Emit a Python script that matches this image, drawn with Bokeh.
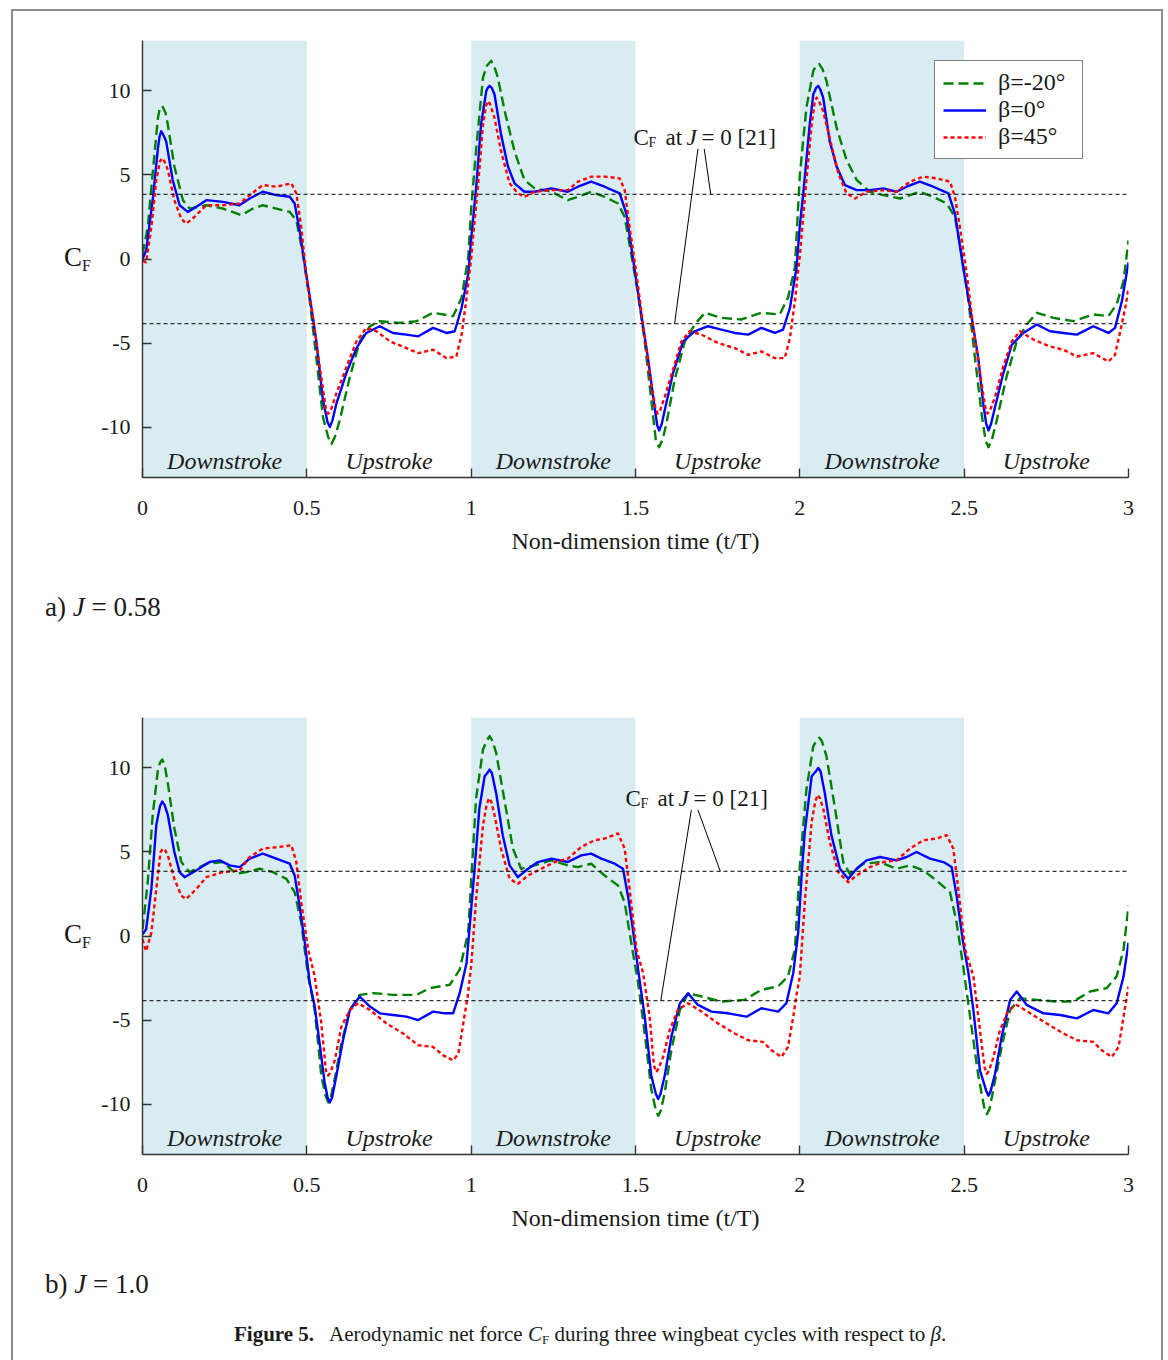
from bokeh.plotting import figure
from bokeh.models import Range1d, FixedTicker, Legend, LegendItem, Label, Span, Div
from bokeh.layouts import column, row
from bokeh.embed import file_html
from bokeh.resources import INLINE
from bokeh.core.properties import value

# ---------------- data ----------------
x_ticks = [0, 0.5, 1, 1.5, 2, 2.5, 3]
x_tick_labels = ["0", "0.5", "1", "1.5", "2", "2.5", "3"]
y_ticks = [-10, -5, 0, 5, 10]
y_tick_labels = ["-10", "-5", "0", "5", "10"]
downstroke_start = [0, 1, 2]
downstroke_end = [0.5, 1.5, 2.5]
phase_names = ["Downstroke", "Upstroke"] * 3
cf_hover_levels = [3.85, -3.85]          # C_F at J = 0 [21]
series_names = ["β=-20°", "β=0°", "β=45°"]

# (t/T, C_F)  a) J = 0.58
a_green = sorted([(0.000,0.3),(0.016,1.9),(0.031,5.1),(0.047,8.4),(0.060,9.1),(0.077,8.0),(0.097,5.5),(0.123,3.5),(0.143,3.0),(0.194,3.2),(0.245,3.0),(0.301,2.6),(0.336,3.0),(0.366,3.2),(0.407,3.0),(0.448,2.8),(0.468,2.3),(0.488,0.3),(0.509,-2.5),(0.529,-5.9),(0.549,-9.4),(0.575,-11.0),(0.600,-9.6),(0.631,-7.0),(0.661,-4.9),(0.692,-4.0),(0.722,-3.7),(0.783,-3.8),(0.834,-3.7),(0.884,-3.2),(0.945,-3.4),(0.971,-2.3),(0.991,0.1),
           (1.000,3.0),(1.015,6.5),(1.036,10.8),(1.061,11.8),(1.081,10.8),(1.102,8.8),(1.132,6.4),(1.162,4.7),(1.193,4.2),(1.244,4.0),(1.294,3.5),(1.325,3.7),(1.365,4.0),(1.406,3.7),(1.447,3.3),(1.467,2.5),(1.487,0.3),(1.508,-2.1),(1.528,-4.9),(1.548,-8.4),(1.572,-11.2),(1.594,-9.8),(1.619,-7.2),(1.650,-4.9),(1.680,-3.9),(1.711,-3.2),(1.761,-3.5),(1.822,-3.6),(1.883,-3.2),(1.939,-3.3),(1.964,-2.3),(1.985,-0.5),
           (2.000,5.0),(2.020,9.0),(2.041,11.2),(2.059,11.6),(2.081,10.6),(2.112,7.8),(2.142,5.9),(2.173,4.7),(2.213,4.0),(2.254,3.8),(2.305,3.6),(2.335,3.8),(2.365,4.0),(2.406,3.7),(2.447,3.3),(2.472,2.5),(2.492,0.3),(2.513,-2.5),(2.533,-5.9),(2.553,-9.2),(2.574,-11.2),(2.599,-9.6),(2.629,-7.0),(2.660,-4.9),(2.690,-3.9),(2.721,-3.2),(2.772,-3.5),(2.832,-3.7),(2.893,-3.3),(2.939,-3.4),(2.964,-2.7),(2.985,-1.3),(3.000,1.1),
           (0.052,8.9),(0.070,8.7),(0.565,-10.6),(0.585,-10.6),(1.048,11.5),(1.073,11.3),(1.562,-10.8),(1.583,-10.7),(2.050,11.5),(2.069,11.3),(2.565,-10.8),(2.585,-10.7)])
a_blue = sorted([(0.000,0.0),(0.011,0.5),(0.031,3.5),(0.047,6.6),(0.057,7.6),(0.072,7.0),(0.092,4.7),(0.113,3.2),(0.138,2.8),(0.163,3.1),(0.194,3.5),(0.245,3.4),(0.295,3.2),(0.326,3.6),(0.366,4.0),(0.407,3.8),(0.448,3.7),(0.463,3.3),(0.478,1.7),(0.498,-0.9),(0.514,-2.9),(0.529,-4.9),(0.549,-8.4),(0.570,-10.0),(0.590,-8.6),(0.620,-6.8),(0.651,-5.3),(0.681,-4.4),(0.722,-4.0),(0.762,-4.4),(0.803,-4.5),(0.839,-4.6),(0.884,-4.1),(0.925,-4.4),(0.950,-4.3),(0.971,-2.9),(0.991,-0.9),
          (1.000,1.2),(1.015,4.2),(1.030,8.0),(1.046,10.0),(1.056,10.3),(1.071,9.8),(1.091,7.4),(1.112,5.5),(1.132,4.5),(1.162,4.0),(1.193,4.0),(1.244,4.2),(1.294,4.0),(1.325,4.3),(1.365,4.6),(1.406,4.3),(1.452,3.9),(1.472,2.7),(1.492,0.1),(1.513,-2.7),(1.538,-5.9),(1.558,-8.8),(1.572,-10.2),(1.589,-9.0),(1.614,-6.8),(1.645,-4.9),(1.680,-4.3),(1.721,-4.0),(1.761,-4.2),(1.802,-4.4),(1.843,-4.5),(1.883,-4.1),(1.924,-4.4),(1.949,-4.2),(1.970,-2.9),(1.990,-0.5),
          (2.000,2.0),(2.010,3.8),(2.030,8.0),(2.041,9.8),(2.056,10.3),(2.071,9.6),(2.091,7.0),(2.112,5.5),(2.137,4.4),(2.173,4.1),(2.213,4.1),(2.254,4.2),(2.294,4.0),(2.325,4.3),(2.365,4.6),(2.406,4.3),(2.452,3.9),(2.472,2.7),(2.497,-0.5),(2.518,-2.9),(2.543,-5.9),(2.558,-8.6),(2.574,-10.2),(2.594,-8.8),(2.619,-6.8),(2.645,-5.1),(2.680,-4.4),(2.721,-3.9),(2.761,-4.3),(2.802,-4.4),(2.843,-4.5),(2.893,-4.0),(2.939,-4.4),(2.959,-4.1),(2.980,-2.5),(3.000,-0.2),
          (0.052,7.3),(0.063,7.4),(0.563,-9.7),(0.578,-9.6),(1.051,10.2),(1.062,10.2),(1.566,-9.9),(1.580,-9.8),(2.050,10.2),(2.062,10.1),(2.567,-9.8),(2.582,-9.8)])
a_red = sorted([(0.000,-0.1),(0.011,-0.2),(0.027,1.9),(0.042,4.7),(0.060,6.0),(0.077,5.3),(0.097,3.5),(0.118,2.4),(0.133,2.1),(0.158,2.5),(0.194,3.2),(0.245,3.2),(0.296,3.3),(0.326,3.8),(0.366,4.4),(0.407,4.3),(0.453,4.5),(0.468,3.9),(0.483,1.9),(0.498,-0.9),(0.519,-3.5),(0.539,-6.4),(0.565,-9.2),(0.590,-8.0),(0.621,-6.4),(0.651,-4.9),(0.681,-4.1),(0.712,-4.3),(0.753,-4.9),(0.803,-5.3),(0.839,-5.6),(0.884,-5.4),(0.925,-5.9),(0.955,-5.8),(0.971,-4.5),(0.986,-2.3),
         (1.000,0.0),(1.010,2.2),(1.022,4.6),(1.036,8.0),(1.051,9.4),(1.071,8.4),(1.091,6.4),(1.117,4.5),(1.142,3.9),(1.162,3.7),(1.193,4.0),(1.244,4.1),(1.294,4.1),(1.325,4.6),(1.365,4.9),(1.406,4.9),(1.452,4.8),(1.467,4.1),(1.482,1.9),(1.503,-0.9),(1.523,-3.9),(1.543,-6.8),(1.567,-9.2),(1.589,-8.2),(1.614,-6.6),(1.640,-4.9),(1.665,-4.3),(1.701,-4.5),(1.751,-5.0),(1.802,-5.3),(1.843,-5.7),(1.883,-5.5),(1.924,-5.9),(1.954,-5.9),(1.970,-4.7),(1.985,-2.5),
         (2.000,0.2),(2.020,4.7),(2.036,8.0),(2.051,9.6),(2.071,8.8),(2.091,7.2),(2.117,5.1),(2.142,3.9),(2.168,3.6),(2.203,4.0),(2.254,4.1),(2.294,4.0),(2.335,4.6),(2.376,4.9),(2.416,4.8),(2.457,4.6),(2.472,3.7),(2.487,1.9),(2.508,-0.9),(2.528,-4.1),(2.548,-6.8),(2.571,-9.2),(2.594,-8.2),(2.619,-6.4),(2.645,-4.9),(2.670,-4.3),(2.711,-4.8),(2.761,-5.2),(2.802,-5.4),(2.843,-5.8),(2.893,-5.6),(2.939,-6.1),(2.959,-5.7),(2.975,-4.3),(2.990,-2.9),(3.000,-1.8),
         (0.053,5.8),(0.067,5.8),(0.558,-8.9),(0.573,-9.0),(1.045,9.1),(1.058,9.2),(1.560,-8.8),(1.575,-9.0),(2.045,9.3),(2.058,9.4),(2.564,-8.8),(2.579,-9.0)])

# (t/T, C_F)  b) J = 1.0
b_green = sorted([(0.000,0.4),(0.016,3.2),(0.031,7.2),(0.047,9.9),(0.060,10.5),(0.077,9.1),(0.097,6.4),(0.118,4.4),(0.143,3.8),(0.194,4.3),(0.245,4.4),(0.285,3.7),(0.316,3.8),(0.356,4.0),(0.397,3.8),(0.438,3.4),(0.463,2.6),(0.483,0.8),(0.504,-2.4),(0.524,-4.4),(0.544,-8.3),(0.565,-9.9),(0.585,-8.5),(0.605,-6.4),(0.631,-4.4),(0.661,-3.5),(0.702,-3.4),(0.762,-3.5),(0.834,-3.5),(0.874,-3.1),(0.935,-2.9),(0.965,-2.0),(0.991,0.2),
           (1.000,3.3),(1.015,8.2),(1.036,11.1),(1.056,11.9),(1.076,10.9),(1.102,8.0),(1.127,5.2),(1.152,4.0),(1.193,4.2),(1.244,4.5),(1.294,4.2),(1.325,4.1),(1.365,4.3),(1.406,3.6),(1.447,3.0),(1.467,2.0),(1.487,-0.4),(1.508,-2.8),(1.528,-5.8),(1.548,-9.1),(1.569,-10.7),(1.589,-9.3),(1.609,-6.8),(1.635,-4.4),(1.660,-3.4),(1.701,-3.6),(1.761,-3.9),(1.832,-3.8),(1.883,-3.2),(1.934,-3.0),(1.964,-2.4),(1.985,-0.8),
           (2.000,4.2),(2.020,8.7),(2.041,11.3),(2.059,11.8),(2.081,10.7),(2.107,7.6),(2.132,4.4),(2.152,3.7),(2.193,4.3),(2.244,4.4),(2.294,4.0),(2.335,4.2),(2.376,3.9),(2.416,3.3),(2.457,2.6),(2.477,0.8),(2.497,-1.8),(2.518,-4.8),(2.543,-8.3),(2.569,-10.6),(2.589,-9.1),(2.614,-6.6),(2.640,-4.4),(2.670,-3.7),(2.721,-3.8),(2.782,-3.9),(2.832,-3.9),(2.883,-3.3),(2.934,-3.1),(2.964,-2.4),(2.985,-0.8),(3.000,1.8),
           (0.053,10.3),(0.067,10.2),(0.557,-9.5),(0.573,-9.6),(1.047,11.6),(1.065,11.6),(1.561,-10.3),(1.577,-10.4),(2.050,11.6),(2.067,11.6),(2.561,-10.2),(2.577,-10.3)])
b_blue = sorted([(0.000,0.1),(0.011,0.4),(0.027,2.8),(0.042,6.6),(0.060,8.0),(0.077,7.2),(0.097,5.0),(0.113,3.8),(0.128,3.5),(0.163,3.9),(0.204,4.4),(0.235,4.5),(0.265,4.2),(0.296,4.1),(0.326,4.6),(0.366,4.9),(0.407,4.6),(0.448,4.3),(0.463,3.6),(0.478,1.8),(0.494,-0.4),(0.509,-2.8),(0.524,-4.2),(0.539,-6.4),(0.554,-8.7),(0.570,-9.9),(0.590,-8.3),(0.610,-6.2),(0.631,-4.4),(0.661,-3.6),(0.692,-4.2),(0.722,-4.6),(0.762,-4.7),(0.803,-4.8),(0.839,-5.0),(0.884,-4.5),(0.920,-4.6),(0.945,-4.6),(0.965,-3.4),(0.986,-1.6),
          (1.000,1.6),(1.010,3.9),(1.025,7.6),(1.041,9.5),(1.056,9.9),(1.076,8.5),(1.096,6.0),(1.117,4.2),(1.142,3.5),(1.173,4.0),(1.203,4.4),(1.244,4.6),(1.294,4.4),(1.335,4.8),(1.365,4.9),(1.396,4.6),(1.437,4.3),(1.462,4.0),(1.477,2.4),(1.492,0.4),(1.508,-2.0),(1.528,-4.8),(1.548,-8.3),(1.569,-9.7),(1.589,-8.3),(1.609,-6.0),(1.635,-4.0),(1.660,-3.4),(1.690,-4.1),(1.731,-4.5),(1.782,-4.6),(1.838,-4.8),(1.883,-4.3),(1.934,-4.5),(1.959,-4.0),(1.980,-2.2),(1.995,0.2),
          (2.005,3.5),(2.015,6.2),(2.036,9.5),(2.056,10.0),(2.076,8.5),(2.096,6.0),(2.122,4.0),(2.147,3.4),(2.173,4.0),(2.203,4.5),(2.244,4.7),(2.294,4.5),(2.325,4.7),(2.355,5.0),(2.396,4.6),(2.437,4.4),(2.462,4.1),(2.477,2.4),(2.497,-0.4),(2.513,-2.2),(2.528,-4.4),(2.548,-8.0),(2.574,-9.5),(2.594,-8.2),(2.614,-6.0),(2.640,-3.8),(2.660,-3.3),(2.690,-4.1),(2.741,-4.6),(2.792,-4.7),(2.843,-4.9),(2.893,-4.4),(2.939,-4.6),(2.964,-4.0),(2.985,-2.4),(3.000,-0.4),
          (0.053,7.7),(0.067,7.8),(0.563,-9.6),(0.577,-9.6),(1.049,9.7),(1.063,9.7),(1.562,-9.4),(1.576,-9.4),(2.049,9.8),(2.063,9.8),(2.567,-9.2),(2.581,-9.2)])
b_red = sorted([(0.000,-0.2),(0.011,-0.9),(0.027,0.2),(0.042,2.8),(0.062,5.2),(0.077,4.8),(0.097,3.4),(0.118,2.4),(0.133,2.2),(0.164,2.8),(0.194,3.5),(0.245,3.8),(0.296,3.9),(0.326,4.7),(0.366,5.2),(0.417,5.3),(0.453,5.4),(0.468,4.4),(0.483,2.0),(0.504,-0.8),(0.524,-2.4),(0.544,-5.2),(0.565,-8.3),(0.585,-7.4),(0.605,-5.4),(0.631,-4.4),(0.656,-4.0),(0.692,-4.4),(0.742,-5.2),(0.793,-5.8),(0.839,-6.5),(0.884,-6.6),(0.915,-7.1),(0.945,-7.4),(0.961,-7.0),(0.976,-5.2),(0.990,-3.5),
         (1.000,-1.8),(1.015,2.2),(1.036,6.6),(1.054,8.2),(1.071,7.2),(1.091,5.2),(1.117,3.4),(1.142,3.1),(1.173,3.6),(1.213,4.0),(1.254,4.4),(1.294,4.6),(1.335,5.3),(1.376,5.7),(1.406,5.8),(1.447,6.1),(1.467,5.2),(1.482,2.8),(1.503,-0.8),(1.523,-2.2),(1.543,-4.8),(1.563,-8.1),(1.584,-7.2),(1.604,-5.6),(1.629,-4.4),(1.660,-4.0),(1.701,-4.5),(1.751,-5.2),(1.802,-5.8),(1.843,-6.2),(1.888,-6.3),(1.914,-6.8),(1.944,-7.2),(1.964,-6.6),(1.980,-4.8),(1.990,-3.5),
         (2.000,-2.4),(2.015,2.0),(2.036,6.8),(2.054,8.4),(2.071,7.6),(2.091,5.6),(2.117,3.8),(2.147,3.2),(2.173,3.6),(2.213,4.1),(2.254,4.4),(2.294,4.5),(2.335,5.2),(2.376,5.7),(2.416,5.8),(2.447,6.0),(2.467,5.2),(2.482,2.8),(2.503,-0.8),(2.528,-2.4),(2.543,-4.8),(2.569,-8.2),(2.589,-7.2),(2.609,-5.6),(2.635,-4.4),(2.660,-4.1),(2.701,-4.6),(2.751,-5.2),(2.802,-5.8),(2.843,-6.2),(2.893,-6.3),(2.919,-6.8),(2.949,-7.2),(2.970,-6.6),(2.985,-4.8),(3.000,-3.0),
         (0.055,5.0),(0.069,5.1),(0.558,-8.0),(0.572,-8.1),(1.047,7.8),(1.061,8.0),(1.556,-7.7),(1.570,-7.9),(2.047,8.0),(2.061,8.2),(2.562,-7.8),(2.576,-8.0)])

# annotation leader lines (t/T, C_F): from label to the two reference levels
a_leader = dict(x0=[1.690, 1.709], y0=[6.55, 6.55], x1=[1.619, 1.729], y1=[-3.85, 3.85])
b_leader = dict(x0=[1.670, 1.690], y0=[7.5, 7.5], x1=[1.577, 1.758], y1=[-3.85, 3.85])

# ---------------- style / layout ----------------
SERIF = "Liberation Serif"
INK = "#1a1a1a"
SHADE = "#d9ecf2"
FRAME_GRAY = "#8c8c8c"
COLORS = ["#008000", "#0000ff", "#ff0000"]
DASHES = ["10 5", "solid", "4 3"]
W = 1168
LEFT_W, RIGHT_W = 96, 20          # side strips beside each chart
MAIN_W = W - LEFT_W - RIGHT_W     # 1052
MAIN_H = 520
FL, FW, FH = 142, 986, 437        # frame left on page, frame size
BX0, BX1, BY0 = 12, 1162, 10      # page border
X0, X1, Y0, Y1 = 0.0, 3.0, -13.0, 13.0


def sy(py):  # pixel below frame top -> data
    return Y1 - py / FH * (Y1 - Y0)


def tx(px):  # page pixel -> data x
    return (px - FL) / FW * (X1 - X0)


def flabel(p, x, y, text, size, style="normal"):
    p.add_layout(Label(x=x, y=y, text=text, text_font=SERIF,
                       text_font_size=f"{size}px", text_font_style=style,
                       text_align="left", text_baseline="middle", text_color=INK))


# ---- HTML strips (outside the chart frames) ----
def vline(x, top, h):
    return (f'<div style="position:absolute;left:{x - 1}px;top:{top}px;width:2px;'
            f'height:{h}px;background:{FRAME_GRAY};"></div>')


def hline(x0, x1, y):
    return (f'<div style="position:absolute;left:{x0 - 1}px;top:{y - 1}px;width:{x1 - x0 + 2}px;'
            f'height:2px;background:{FRAME_GRAY};"></div>')


def text_at(x, top, html, size):
    return (f'<div style="position:absolute;left:{x}px;top:{top}px;font-family:\'{SERIF}\';'
            f'font-size:{size}px;line-height:1;color:{INK};white-space:nowrap;">{html}</div>')


def strip(width, height, inner):
    html = (f'<div style="position:relative;width:{width}px;height:{height}px;overflow:hidden;'
            f'background:white;margin:0;padding:0;">{inner}</div>')
    return Div(text=html, width=width, height=height, margin=0,
               styles={"margin": "0", "padding": "0", "overflow": "hidden"})


def left_strip():
    c = '<span>C</span><sub style="font-size:16px;vertical-align:-5px;line-height:0;">F</sub>'
    return strip(LEFT_W, MAIN_H, vline(BX0, 0, MAIN_H) + text_at(64, 218 - 14, c, 27))


def right_strip():
    return strip(RIGHT_W, MAIN_H, vline(BX1 - (W - RIGHT_W), 0, MAIN_H))


def panel(series, leader, ref_px, ref_py, legend=False):
    p = figure(width=MAIN_W, height=MAIN_H, x_range=Range1d(X0, X1), y_range=Range1d(Y0, Y1),
               min_border_left=FL - LEFT_W, min_border_right=MAIN_W - (FL - LEFT_W) - FW,
               min_border_top=0, min_border_bottom=MAIN_H - FH,
               output_backend="svg", toolbar_location=None, tools="")
    p.outline_line_color = None
    p.grid.visible = False
    p.background_fill_color = "white"
    p.border_fill_color = "white"

    for ax in (p.xaxis[0], p.yaxis[0]):
        ax.major_tick_in = 9
        ax.major_tick_out = 0
        ax.minor_tick_in = 0
        ax.minor_tick_out = 0
        ax.axis_line_color = "#333333"
        ax.axis_line_width = 1.4
        ax.major_tick_line_color = "#333333"
        ax.major_tick_line_width = 1.4
        ax.major_label_text_font = SERIF
        ax.major_label_text_font_size = "22px"
        ax.major_label_text_color = INK
    p.xaxis.ticker = FixedTicker(ticks=x_ticks)
    p.xaxis.major_label_overrides = {float(t): s for t, s in zip(x_ticks, x_tick_labels)}
    p.xaxis.major_label_standoff = 23
    p.xaxis.axis_label = "Non-dimension time (t/T)"
    p.xaxis.axis_label_text_font = SERIF
    p.xaxis.axis_label_text_font_style = "normal"
    p.xaxis.axis_label_text_font_size = "24px"
    p.xaxis.axis_label_text_color = INK
    p.xaxis.axis_label_standoff = 10
    p.yaxis.ticker = FixedTicker(ticks=y_ticks)
    p.yaxis.major_label_overrides = {float(t): s for t, s in zip(y_ticks, y_tick_labels)}
    p.yaxis.major_label_standoff = 12

    p.quad(left=downstroke_start, right=downstroke_end, bottom=Y0, top=Y1,
           fill_color=SHADE, line_color=None)
    for lvl in cf_hover_levels:
        p.add_layout(Span(location=lvl, dimension="width", line_color="black",
                          line_width=1, line_dash="4 3"))

    renderers = []
    for pairs, color, dash in zip(series, COLORS, DASHES):
        t = [a for a, _ in pairs]
        cf = [b for _, b in pairs]
        renderers.append(p.line(t, cf, line_color=color, line_width=2.4,
                                line_dash=dash, line_join="round"))

    mids = [(a + b) / 2 for a, b in zip(x_ticks[:-1], x_ticks[1:])]
    p.text(x=mids, y=[sy(420)] * len(mids), text=phase_names, text_font=value(SERIF),
           text_font_style="italic", text_font_size="24px", text_align="center",
           text_baseline="middle", text_color=INK)

    p.segment(x0=leader["x0"], y0=leader["y0"], x1=leader["x1"], y1=leader["y1"],
              line_color="black", line_width=1)
    flabel(p, tx(ref_px), sy(ref_py), "C", 23)
    flabel(p, tx(ref_px + 15), sy(ref_py + 5), "F", 14)
    flabel(p, tx(ref_px + 32), sy(ref_py), "at", 23)
    flabel(p, tx(ref_px + 53), sy(ref_py), "J", 23, "italic")
    flabel(p, tx(ref_px + 68), sy(ref_py), "= 0 [21]", 23)

    if legend:
        items = [LegendItem(label=n, renderers=[r]) for n, r in zip(series_names, renderers)]
        lg = Legend(items=items, location=(792, 318), orientation="vertical",
                    label_text_font=SERIF, label_text_font_size="24px", label_text_color=INK,
                    glyph_width=43, glyph_height=24, label_height=24, label_width=76,
                    label_standoff=12, spacing=0, padding=8, margin=0,
                    border_line_color="black", border_line_width=1,
                    background_fill_color="white", background_fill_alpha=1)
        p.add_layout(lg)
    return p


top = strip(W, 40, hline(BX0, BX1, BY0) + vline(BX0, BY0, 40) + vline(BX1, BY0, 40))

pa = panel([a_green, a_blue, a_red], a_leader, 633, 97, legend=True)
pb = panel([b_green, b_blue, b_red], b_leader, 625, 81)

tag_a = strip(W, 157, vline(BX0, 0, 157) + vline(BX1, 0, 157) +
              text_at(45, 48 - 14, 'a) <i>J</i> = 0.58', 27))

caption = ('<b>Figure 5.</b><span style="margin-left:15px;">Aerodynamic net force '
           '<i>C</i><sub style="font-size:13px;vertical-align:-3px;line-height:0;">F</sub> '
           'during three wingbeat cycles with respect to <i>β</i>.</span>')
tag_b = strip(W, 123, vline(BX0, 0, 123) + vline(BX1, 0, 123) +
              text_at(45, 48 - 14, 'b) <i>J</i> = 1.0', 27) +
              text_at(234, 98 - 11, caption, 21))

row_a = row(left_strip(), pa, right_strip(), spacing=0)
row_b = row(left_strip(), pb, right_strip(), spacing=0)

layout = column(top, row_a, tag_a, row_b, tag_b, spacing=0)
open("out.html", "w").write(file_html(layout, INLINE, title="Figure 5"))
